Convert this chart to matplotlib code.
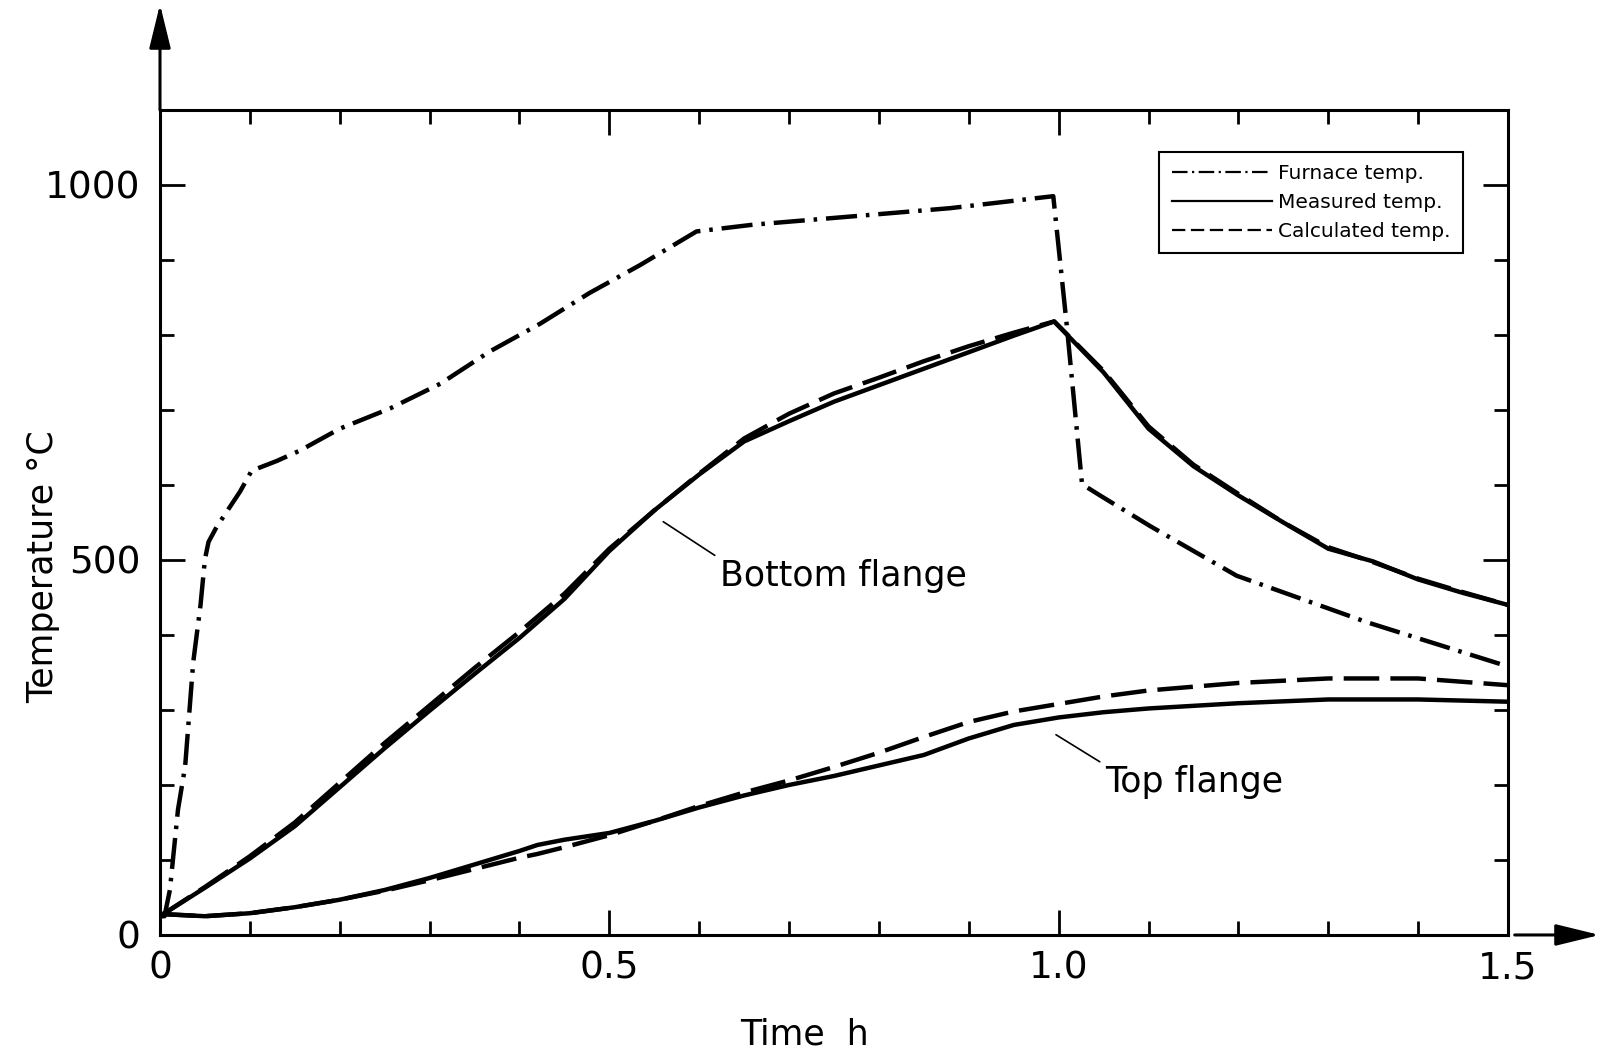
"""Furnace test: steel beam flange temperatures, measured vs calculated."""

import matplotlib

matplotlib.use("Agg")
import matplotlib.pyplot as plt
from matplotlib.lines import Line2D
from matplotlib.ticker import MultipleLocator

# Furnace gas temperature
furnace_t = [0.0, 0.005, 0.011, 0.02, 0.028, 0.037, 0.045, 0.05, 0.054, 0.063,
             0.089, 0.102, 0.13, 0.156, 0.2, 0.256, 0.312, 0.367, 0.423, 0.478,
             0.534, 0.597, 0.66, 0.879, 0.994, 1.009, 1.026, 1.046, 1.102,
             1.198, 1.343, 1.5]
furnace_T = [25, 25, 60, 167, 225, 364, 439, 501, 524, 544,
             591, 619, 632, 646, 675, 702, 735, 778, 815, 856,
             893, 938, 947, 969, 985, 813, 601, 586, 545,
             479, 417, 358]

# Bottom flange
bottom_t = [0.0, 0.05, 0.1, 0.15, 0.2, 0.25, 0.3, 0.35, 0.4, 0.45, 0.5, 0.55,
            0.6, 0.65, 0.7, 0.75, 0.8, 0.85, 0.9, 0.95, 0.995, 1.05, 1.1,
            1.15, 1.2, 1.25, 1.3, 1.35, 1.4, 1.45, 1.5]
bottom_meas = [25, 63, 102, 145, 197, 249, 299, 348, 396, 448, 512, 566,
               614, 658, 685, 711, 733, 755, 777, 799, 818, 750, 675,
               625, 586, 550, 515, 498, 474, 456, 440]
bottom_calc = [25, 64, 105, 150, 203, 256, 306, 356, 404, 455, 515, 566,
               615, 662, 695, 722, 743, 765, 785, 803, 818, 752, 678,
               627, 588, 550, 517, 497, 475, 457, 440]

# Top flange
top_t = [0.0, 0.05, 0.1, 0.15, 0.2, 0.25, 0.3, 0.35, 0.4, 0.42, 0.45, 0.5,
         0.55, 0.6, 0.65, 0.7, 0.75, 0.8, 0.85, 0.9, 0.95, 1.0, 1.05, 1.1,
         1.2, 1.3, 1.4, 1.5]
top_meas = [28, 25, 29, 37, 47, 60, 76, 94, 112, 120, 127, 136,
            152, 170, 186, 200, 212, 226, 240, 262, 280, 290, 297, 302,
            309, 314, 314, 311]
top_calc = [28, 25, 29, 37, 47, 59, 73, 88, 103, 108, 117, 133,
            152, 172, 190, 206, 224, 243, 264, 284, 298, 308, 318, 326,
            336, 342, 342, 333]

legend_labels = ["Furnace temp.", "Measured temp.", "Calculated temp."]

FURNACE_LS = (0, (7, 2, 0.8, 2))
CALC_LS = (0, (8, 2.5))
LW = 3.2

plt.rcParams["font.family"] = ["DejaVu Sans"]

fig = plt.figure(figsize=(16, 10.51), dpi=100)
ax = fig.add_axes([0.1, 0.1104, 0.8425, 0.785])

ax.plot(furnace_t, furnace_T, color="black", lw=LW, linestyle=FURNACE_LS)
ax.plot(bottom_t, bottom_meas, color="black", lw=LW)
ax.plot(bottom_t, bottom_calc, color="black", lw=LW, linestyle=CALC_LS)
ax.plot(top_t, top_meas, color="black", lw=LW)
ax.plot(top_t, top_calc, color="black", lw=LW, linestyle=CALC_LS)

ax.set_xlim(0, 1.5)
ax.set_ylim(0, 1100)

ax.xaxis.set_major_locator(MultipleLocator(0.5))
ax.xaxis.set_minor_locator(MultipleLocator(0.1))
ax.yaxis.set_major_locator(MultipleLocator(500))
ax.yaxis.set_minor_locator(MultipleLocator(100))
ax.set_xticks([0, 0.5, 1.0, 1.5], ["0", "0.5", "1.0", "1.5"])
ax.set_yticks([0, 500, 1000], ["0", "500", "1000"])

ax.tick_params(which="both", direction="in", top=True, right=True,
               width=2, colors="black")
ax.tick_params(which="major", length=18, labelsize=27)
ax.tick_params(which="minor", length=10)
ax.tick_params(axis="x", which="major", pad=11)
ax.tick_params(axis="y", which="major", pad=14)
for side in ax.spines.values():
    side.set_linewidth(2.2)

# axis arrows
arrow = dict(arrowstyle="-|>,head_length=0.9,head_width=0.22", lw=2.2,
             color="black", mutation_scale=30, shrinkA=0, shrinkB=0)
ax.annotate("", xy=(0, 1.128), xytext=(0, 1.0), xycoords="axes fraction",
            arrowprops=arrow, annotation_clip=False)
ax.annotate("", xy=(1.068, 0), xytext=(1.005, 0), xycoords="axes fraction",
            arrowprops=arrow, annotation_clip=False)

ax.set_xlabel("Time  h", fontsize=25)
ax.xaxis.set_label_coords(0.478, -0.1)
ax.set_ylabel("Temperature °C", fontsize=25)
ax.yaxis.set_label_coords(-0.074, 0.447)

leader = dict(arrowstyle="-", lw=1.2, color="black", relpos=(0, 1),
              shrinkA=2, shrinkB=0)
ax.annotate("Bottom flange", xy=(0.56, 551), xytext=(0.623, 479),
            fontsize=25, ha="left", va="center", arrowprops=leader)
ax.annotate("Top flange", xy=(0.997, 267), xytext=(1.0515, 204),
            fontsize=25, ha="left", va="center", arrowprops=leader)

handles = [
    Line2D([], [], color="black", lw=1.6, linestyle=(0, (7, 2, 1, 2))),
    Line2D([], [], color="black", lw=1.6),
    Line2D([], [], color="black", lw=1.6, linestyle=(0, (6, 2.5))),
]
leg = ax.legend(handles, legend_labels, loc="upper right",
                bbox_to_anchor=(0.974, 0.961), fontsize=14.5, handlelength=5.0,
                handletextpad=0.3, labelspacing=0.5, borderpad=0.6,
                fancybox=False, framealpha=1, edgecolor="black")
leg.get_frame().set_linewidth(1.5)

fig.savefig("out.png", dpi=100, facecolor="white")
plt.close(fig)
